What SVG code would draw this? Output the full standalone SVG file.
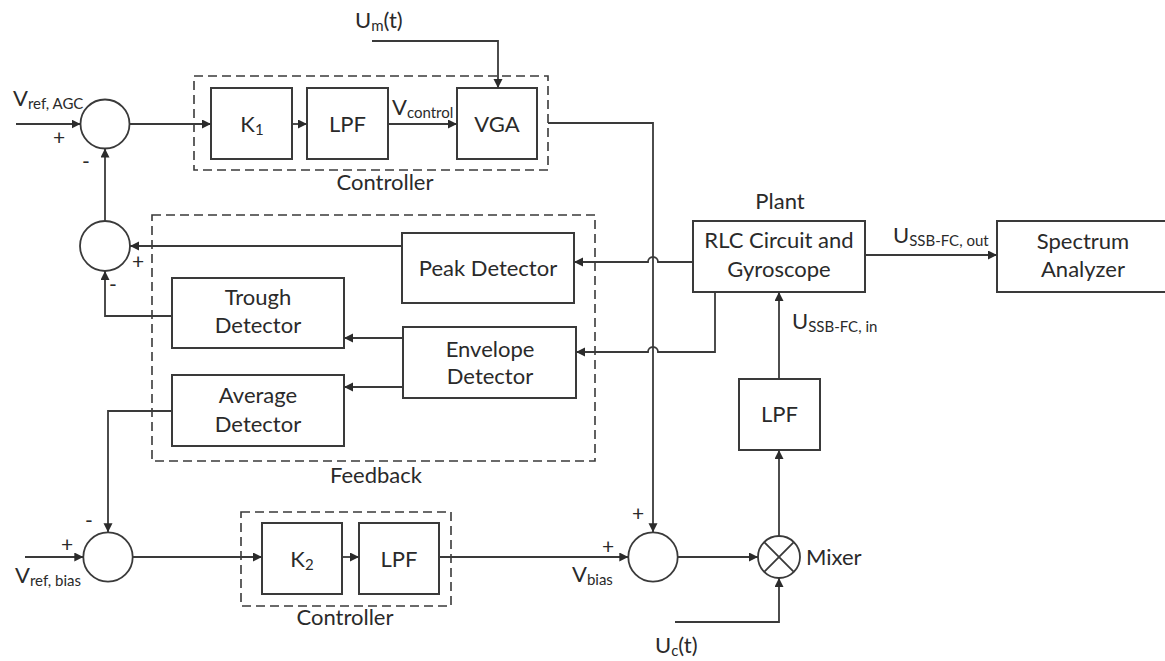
<svg xmlns="http://www.w3.org/2000/svg" width="1165" height="661" viewBox="0 0 1165 661">
<defs>
<marker id="arr" markerUnits="userSpaceOnUse" markerWidth="10" markerHeight="10" refX="9" refY="4.5" orient="auto">
<path d="M0,0 L9,4.5 L0,9 z" fill="#2b2b2b"/>
</marker>
<style>
.box{fill:#fff;stroke:#3a3a3a;stroke-width:2}
.dash{fill:none;stroke:#3a3a3a;stroke-width:1.6;stroke-dasharray:9,5}
.sum{fill:#fff;stroke:#3a3a3a;stroke-width:1.8}
.ln{fill:none;stroke:#3a3a3a;stroke-width:1.8}
.ar{fill:none;stroke:#3a3a3a;stroke-width:1.8;marker-end:url(#arr)}
text{font-family:Lato,"Liberation Sans",sans-serif;fill:#2a2a2a;font-size:22px}
.c{text-anchor:middle}
.sub{font-size:15px}
.sg{font-size:21px;text-anchor:middle}
</style>
</defs>
<rect width="1165" height="661" fill="#fff"/>

<g id="controller-top">
<rect class="dash" x="194" y="76" width="354" height="94"/>
<text class="c" x="385" y="190">Controller</text>
</g>
<g id="K1"><rect class="box" x="211" y="88" width="81" height="71"/><text class="c" x="252" y="132">K<tspan class="sub" dy="3">1</tspan></text></g>
<g id="LPF1"><rect class="box" x="307" y="88" width="81" height="71"/><text class="c" x="347.5" y="132">LPF</text></g>
<g id="VGA"><rect class="box" x="457" y="88" width="80" height="71"/><text class="c" x="497" y="132">VGA</text></g>
<g id="sum1"><circle class="sum" cx="105" cy="124" r="24.5"/></g>

<g id="feedback">
<rect class="dash" x="152" y="215" width="443" height="246"/>
<text class="c" x="376" y="483">Feedback</text>
</g>
<g id="sum2"><circle class="sum" cx="105" cy="246" r="25"/></g>
<g id="peak"><rect class="box" x="402" y="233" width="172" height="70"/><text class="c" x="488" y="276">Peak Detector</text></g>
<g id="trough"><rect class="box" x="172" y="278" width="172" height="70"/><text class="c" x="258" y="305">Trough</text><text class="c" x="258" y="333">Detector</text></g>
<g id="envelope"><rect class="box" x="403" y="327" width="173" height="71"/><text class="c" x="490" y="357">Envelope</text><text class="c" x="490" y="384">Detector</text></g>
<g id="average"><rect class="box" x="172" y="375" width="172" height="71"/><text class="c" x="258" y="403">Average</text><text class="c" x="258" y="432">Detector</text></g>

<g id="plant">
<text class="c" x="780" y="209">Plant</text>
<rect class="box" x="693" y="221" width="172" height="71"/>
<text class="c" x="779" y="248">RLC Circuit and</text>
<text class="c" x="779" y="277">Gyroscope</text>
</g>
<g id="spectrum"><rect class="box" x="997" y="221" width="175" height="71"/><text class="c" x="1083" y="249">Spectrum</text><text class="c" x="1083" y="277">Analyzer</text></g>
<g id="LPF3"><rect class="box" x="739" y="379" width="81" height="71"/><text class="c" x="779.5" y="422">LPF</text></g>

<g id="controller-bottom">
<rect class="dash" x="241" y="512" width="210" height="94"/>
<text class="c" x="345" y="625">Controller</text>
</g>
<g id="K2"><rect class="box" x="262" y="523" width="80" height="71"/><text class="c" x="302" y="567">K<tspan class="sub" dy="3">2</tspan></text></g>
<g id="LPF2"><rect class="box" x="359" y="523" width="80" height="71"/><text class="c" x="399" y="567">LPF</text></g>
<g id="sum4"><circle class="sum" cx="108" cy="557" r="24.7"/></g>
<g id="sum3"><circle class="sum" cx="653" cy="557" r="24.7"/></g>
<g id="mixer">
<circle class="sum" cx="779" cy="557" r="21"/>
<path class="ln" d="M764.2,542.2 L793.8,571.8 M793.8,542.2 L764.2,571.8"/>
<text x="806" y="565">Mixer</text>
</g>

<g id="connectors">
<path class="ar" d="M16,124 H80.5"/>
<path class="ar" d="M129.5,124 H211"/>
<path class="ar" d="M292,124 H307"/>
<path class="ar" d="M388,124 H457"/>
<path class="ar" d="M372,41 H498 V88"/>
<path class="ar" d="M548,123 H653 V532.3"/>
<path class="ar" d="M105,221 V148.5"/>
<path class="ar" d="M402,246 H130"/>
<path class="ar" d="M172,316 H105 V271"/>
<path class="ar" d="M403,338 H344"/>
<path class="ar" d="M403,387 H344"/>
<path class="ar" d="M693,262 H658 A5,5 0 0 0 648,262 H574"/>
<path class="ar" d="M715,292 V352 H658 A5,5 0 0 0 648,352 H576"/>
<path class="ar" d="M172,411 H108 V532.3"/>
<path class="ar" d="M25,557 H83.3"/>
<path class="ar" d="M132.7,557 H262"/>
<path class="ar" d="M342,557 H359"/>
<path class="ar" d="M439,557 H628.3"/>
<path class="ar" d="M677.7,557 H758"/>
<path class="ar" d="M675,622 H779 V578"/>
<path class="ar" d="M779,536 V450"/>
<path class="ar" d="M779,379 V292"/>
<path class="ar" d="M865,255 H997"/>
</g>

<g id="labels">
<text x="355" y="28">U<tspan class="sub" dy="3">m</tspan><tspan dy="-3">(t)</tspan></text>
<text x="13" y="106">V<tspan class="sub" dy="3">ref, AGC</tspan></text>
<text x="392" y="115">V<tspan class="sub" dy="3">control</tspan></text>
<text class="sg" x="59" y="145">+</text>
<text class="sg" x="86" y="169">-</text>
<text class="sg" x="138" y="269">+</text>
<text class="sg" x="113" y="292">-</text>
<text x="893" y="243">U<tspan class="sub" dy="3">SSB-FC, out</tspan></text>
<text x="792" y="329">U<tspan class="sub" dy="3">SSB-FC, in</tspan></text>
<text x="15" y="583">V<tspan class="sub" dy="3">ref, bias</tspan></text>
<text class="sg" x="67" y="552">+</text>
<text class="sg" x="89" y="528">-</text>
<text class="sg" x="638" y="521">+</text>
<text class="sg" x="608" y="554">+</text>
<text x="572" y="582">V<tspan class="sub" dy="3">bias</tspan></text>
<text x="655" y="653">U<tspan class="sub" dy="3">c</tspan><tspan dy="-3">(t)</tspan></text>
</g>
</svg>
